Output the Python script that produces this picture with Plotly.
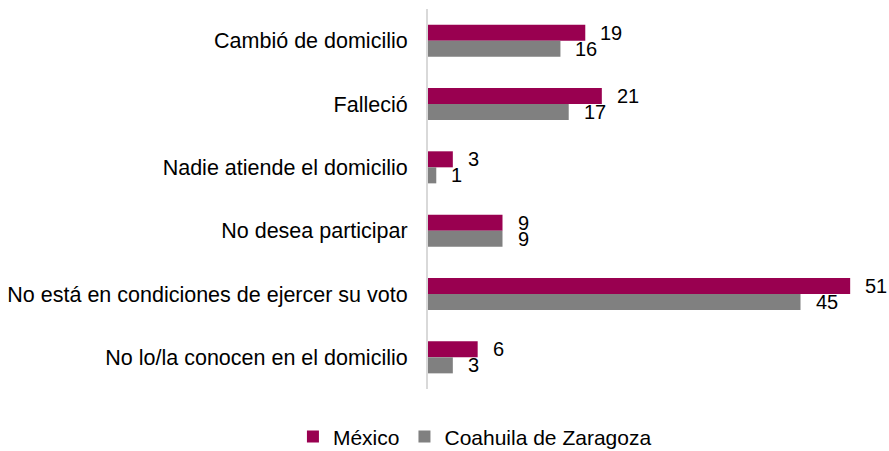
import plotly.graph_objects as go

categories = [
    "Cambió de domicilio",
    "Falleció",
    "Nadie atiende el domicilio",
    "No desea participar",
    "No está en condiciones de ejercer su voto",
    "No lo/la conocen en el domicilio",
]
mexico = [19, 21, 3, 9, 51, 6]
coahuila = [16, 17, 1, 9, 45, 3]
series_names = ["México", "Coahuila de Zaragoza"]
colors = ["#990050", "#808080"]

FONT = "Liberation Sans, Arial, sans-serif"

fig = go.Figure()
fig.add_trace(go.Bar(y=categories, x=mexico, name=series_names[0], orientation="h",
                     marker=dict(color=colors[0], line=dict(width=0))))
fig.add_trace(go.Bar(y=categories, x=coahuila, name=series_names[1], orientation="h",
                     marker=dict(color=colors[1], line=dict(width=0))))

annotations = []
for vals, ys in ((mexico, 8), (coahuila, -8)):
    for c, v in zip(categories, vals):
        annotations.append(dict(x=v, y=c, xref="x", yref="y", text=str(v), showarrow=False,
                                xanchor="left", yanchor="middle", xshift=13, yshift=ys,
                                font=dict(family=FONT, size=20, color="#000000")))

fig.update_layout(
    width=889, height=451,
    margin=dict(l=428, r=14, t=9, b=62, autoexpand=False),
    paper_bgcolor="white", plot_bgcolor="white",
    barmode="group", bargap=0.494, bargroupgap=0,
    font=dict(family=FONT, size=21.5, color="#000000"),
    xaxis=dict(visible=False, range=[0, 54], fixedrange=True),
    yaxis=dict(autorange="reversed", showline=True, linecolor="#d9d9d9", linewidth=2,
               showgrid=False, ticks="", ticklabelstandoff=14, fixedrange=True,
               tickfont=dict(family=FONT, size=21.5, color="#000000")),
    legend=dict(orientation="h", x=0.105, y=-0.126,
                xanchor="center", yanchor="middle", font=dict(family=FONT, size=21),
                itemwidth=30, traceorder="normal"),
    annotations=annotations,
)

fig.write_html("out.html", config={"displayModeBar": False},
               post_script="document.body.style.margin='0px';")
